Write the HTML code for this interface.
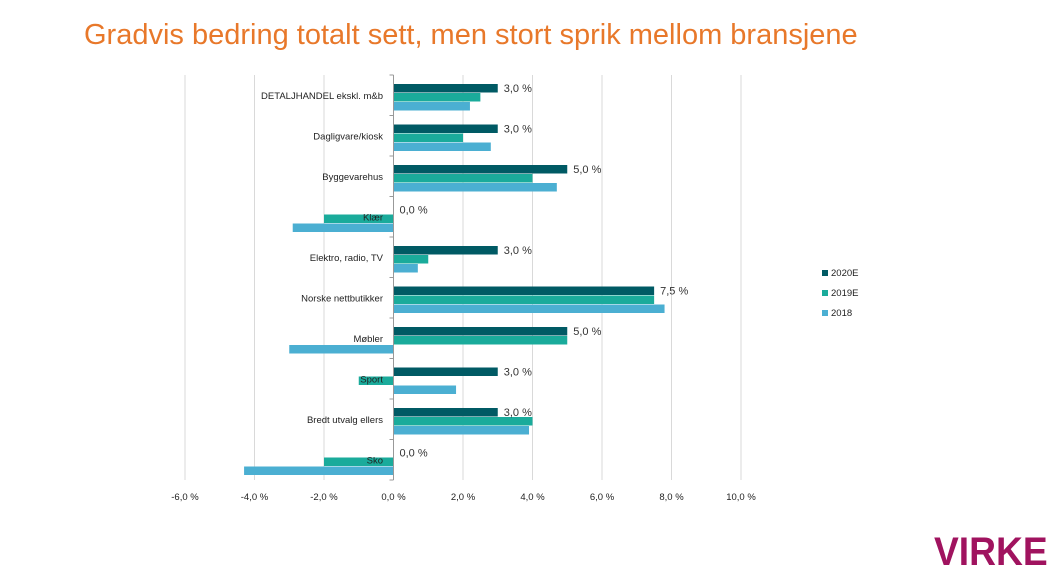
<!DOCTYPE html>
<html><head><meta charset="utf-8"><style>
body{margin:0;width:1058px;height:572px;background:#fff;overflow:hidden;font-family:"Liberation Sans",sans-serif;}
#title{position:absolute;left:84px;top:19px;font-size:29px;color:#e8782a;white-space:nowrap;}
#logo{position:absolute;left:934px;top:530px;font-size:40px;font-weight:bold;color:#a0135f;font-family:"Liberation Sans",sans-serif;transform:scaleX(0.93);transform-origin:left top;}
</style></head><body>
<div id="title">Gradvis bedring totalt sett, men stort sprik mellom bransjene</div>
<svg id="chart" width="1058" height="572" style="position:absolute;left:0;top:0"></svg>
<div id="logo">VIRKE</div>
<script>
const categories=["DETALJHANDEL ekskl. m&b","Dagligvare/kiosk","Byggevarehus","Klær","Elektro, radio, TV","Norske nettbutikker","Møbler","Sport","Bredt utvalg ellers","Sko"];
const s2020=[3,3,5,0,3,7.5,5,3,3,0];
const s2019=[2.5,2.0,4.0,-2.0,1.0,7.5,5.0,-1.0,4.0,-2.0];
const s2018=[2.2,2.8,4.7,-2.9,0.7,7.8,-3.0,1.8,3.9,-4.3];
const ticks=[-6,-4,-2,0,2,4,6,8,10];
const tickLabels=["-6,0 %","-4,0 %","-2,0 %","0,0 %","2,0 %","4,0 %","6,0 %","8,0 %","10,0 %"];
const seriesNames=["2020E","2019E","2018"];
const colors=["#005a64","#1aab9b","#4bafd2"];
const NS="http://www.w3.org/2000/svg";
const svg=document.getElementById('chart');
const x=v=>393.5+(v)*34.75;
const top0=75,band=40.5;
function mk(t,a,p){const e=document.createElementNS(NS,t);for(const k in a)e.setAttribute(k,a[k]);(p||svg).appendChild(e);return e;}
ticks.forEach((t,i)=>{
  if(t!==0){const g=mk('line',{x1:x(t),x2:x(t),y1:top0,y2:top0+band*10,stroke:'#d9d9d9','stroke-width':1});
  
  }
  const l=mk('text',{x:x(t),y:500,'font-size':9.5,'text-anchor':'middle',fill:'#222'});
  l.textContent=tickLabels[i];
  
  
});
const series=[s2020,s2019,s2018];
categories.forEach((c,i)=>{
  const gy=top0+i*band;
  series.forEach((s,j)=>{
    const v=s[i];const y=gy+9+j*9;
    const r=mk('rect',{x:Math.min(x(0),x(v)),y:y,width:Math.abs(x(v)-x(0)),height:8.5,fill:colors[j]});
    
    
  });
  const lab=mk('text',{x:383,y:gy+24,'font-size':9.5,'text-anchor':'end',fill:'#222'});
  lab.textContent=c;
  
  
  const v=s2020[i];
  const dl=mk('text',{x:Math.max(x(v),x(0))+6,y:gy+17,'font-size':11,fill:'#333'});
  dl.textContent=v.toFixed(1).replace('.',',')+' %';
  
  
});
const ax=mk('line',{x1:x(0),x2:x(0),y1:top0,y2:top0+band*10,stroke:'#999','stroke-width':1});


for(let i=0;i<=10;i++){const tk=mk('line',{x1:x(0)-4,x2:x(0),y1:top0+i*band,y2:top0+i*band,stroke:'#999'});

}
seriesNames.forEach((n,j)=>{
  const y=276+j*20;
  const r=mk('rect',{x:822,y:y-6,width:6,height:6,fill:colors[j]});
  
  
  const t=mk('text',{x:831,y:y,'font-size':9.5,fill:'#222'});
  t.textContent=n;
  
  
});
</script>
</body></html>
